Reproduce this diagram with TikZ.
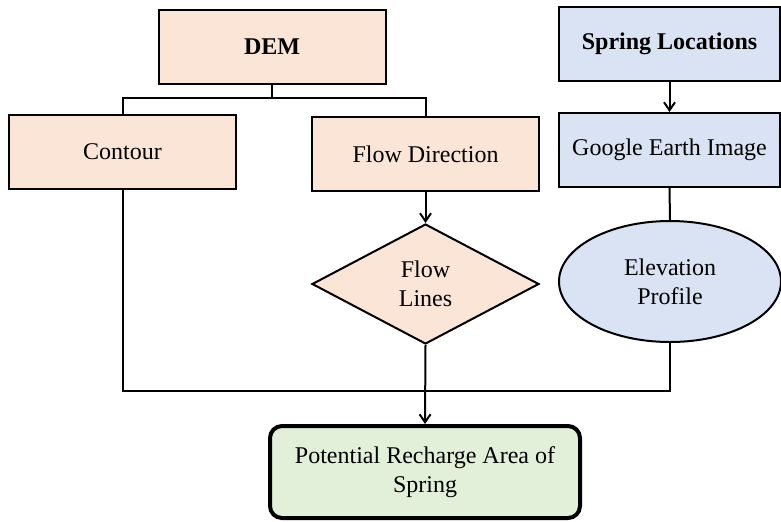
\documentclass[tikz,border=0pt]{standalone}
\usepackage{fontspec}
\setmainfont{Liberation Serif}
\usetikzlibrary{shapes.geometric,arrows.meta}
\definecolor{peach}{HTML}{FBE5D6}
\definecolor{lblue}{HTML}{DAE3F3}
\definecolor{lgreen}{HTML}{E2F0D9}
\begin{document}
\begin{tikzpicture}[x=0.5pt,y=-0.5pt,
  every node/.style={font=\fontsize{12}{14.5}\selectfont, align=center, inner sep=0pt},
  boxbase/.style={draw, line width=1pt, minimum width=113.5pt, minimum height=37pt},
  pbox/.style={boxbase, fill=peach},
  bbox/.style={boxbase, fill=lblue, minimum width=110.5pt},
  conn/.style={line width=1pt},
  arr/.style={conn, -{Straight Barb[length=4pt,width=5.5pt]}}]
\useasboundingbox (0,0) rectangle (781,521);
\node[pbox, font=\fontsize{12}{14.5}\selectfont\bfseries] (dem) at (272,47) {DEM};
\node[pbox] (contour) at (122.5,152) {Contour};
\node[pbox] (flowdir) at (425.5,154) {Flow Direction};
\node[bbox, font=\fontsize{12}{14.5}\selectfont\bfseries] (spring) at (669.5,44) {Spring Locations};
\node[bbox] (google) at (669.5,150) {Google Earth Image};
\node[draw, line width=1pt, fill=peach, diamond, minimum width=113.5pt, minimum height=60pt] (lines) at (425.5,284) {Flow\\Lines};
\node[draw, line width=1pt, fill=lblue, ellipse, minimum width=111pt, minimum height=60.5pt] (elev) at (670,281.5) {Elevation\\Profile};
\node[draw, line width=2pt, fill=lgreen, rounded corners=6pt, minimum width=155pt, minimum height=46pt] (result) at (425,472) {Potential Recharge Area of\\Spring};
\coordinate (br) at (272,98);
\coordinate (bj) at (425.5,391);
\draw[conn] (dem.south) -- (br);
\draw[conn] (contour.north) |- (br) -| (flowdir.north);
\draw[arr] (spring.south) -- (google.north);
\draw[conn] (google.south) -- (elev.north);
\draw[arr] (flowdir.south) -- (lines.north);
\draw[conn] (contour.south) |- (bj) -| (elev.south);
\draw[arr] (lines.south) -- (result.north);
\end{tikzpicture}
\end{document}
